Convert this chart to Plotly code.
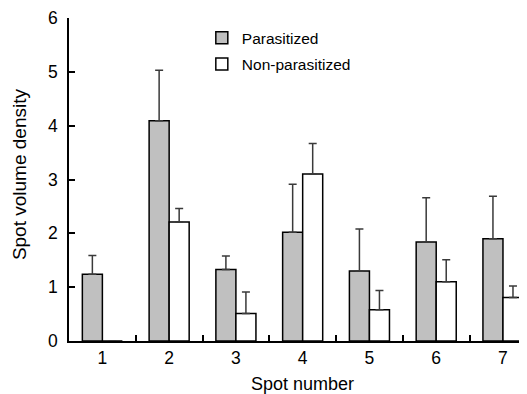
import plotly.graph_objects as go

spots = [1, 2, 3, 4, 5, 6, 7]
tick_labels = ["1", "2", "3", "4", "5", "6", "7"]
parasitized = [1.24, 4.09, 1.33, 2.02, 1.30, 1.84, 1.90]
parasitized_err = [0.35, 0.94, 0.25, 0.89, 0.78, 0.82, 0.79]
non_parasitized = [0.0, 2.21, 0.51, 3.10, 0.58, 1.10, 0.81]
non_parasitized_err = [0.0, 0.25, 0.40, 0.57, 0.36, 0.41, 0.21]
boundaries = [1.5, 2.5, 3.5, 4.5, 5.5, 6.5]
y_ticks = [0, 1, 2, 3, 4, 5, 6]

FONT = "Arial, Liberation Sans, sans-serif"

fig = go.Figure()
fig.add_trace(go.Bar(
    x=spots, y=parasitized, name="Parasitized", legendgroup="a",
    marker=dict(color="#c0c0c0", line=dict(color="black", width=1.5)),
    error_y=dict(type="data", symmetric=False, array=parasitized_err,
                 arrayminus=[0] * 7, color="#3a3a3a", thickness=1.5, width=4),
))
fig.add_trace(go.Bar(
    x=spots, y=non_parasitized, name="Non-parasitized", legendgroup="b",
    marker=dict(color="white", line=dict(color="black", width=1.5)),
    error_y=dict(type="data", symmetric=False, array=non_parasitized_err,
                 arrayminus=[0] * 7, color="#3a3a3a", thickness=1.5, width=4),
))

fig.update_layout(
    width=519, height=386,
    margin=dict(l=61, r=0, t=10, b=53),
    paper_bgcolor="white", plot_bgcolor="white",
    barmode="group", bargap=0.4, bargroupgap=0,
    font=dict(family=FONT, size=17, color="black"),
    showlegend=True,
    legend=dict(x=0.29, y=0.99, xanchor="left", yanchor="top",
                font=dict(size=15.5, family=FONT), traceorder="grouped",
                tracegroupgap=3, bgcolor="rgba(0,0,0,0)", itemwidth=30),
    xaxis=dict(range=[0.5, 7.36], tickmode="array", tickvals=spots,
               ticktext=tick_labels, ticks="", showline=True, linecolor="black",
               linewidth=1.5, showgrid=False, zeroline=False,
               tickfont=dict(size=17.5),
               minor=dict(tickmode="array", tickvals=boundaries, ticks="inside",
                          ticklen=6, tickwidth=1.5, tickcolor="black", showgrid=False)),
    yaxis=dict(range=[0, 6], tickmode="array", tickvals=y_ticks, ticks="inside",
               ticklen=6, tickwidth=1.5, tickcolor="black", showline=True,
               linecolor="black", linewidth=1.5, showgrid=False, zeroline=False,
               tickfont=dict(size=17.5), ticklabelstandoff=6),
    annotations=[
        dict(text="Spot number", xref="x", yref="paper", x=4, y=0, yshift=-31,
             xanchor="center", yanchor="top", showarrow=False,
             font=dict(size=18, family=FONT)),
        dict(text="Spot volume density", xref="paper", yref="y", x=0, y=3.1,
             xshift=-50, xanchor="center", yanchor="middle", textangle=-90,
             showarrow=False, font=dict(size=19, family=FONT)),
    ],
)

fig.write_html("out.html")
